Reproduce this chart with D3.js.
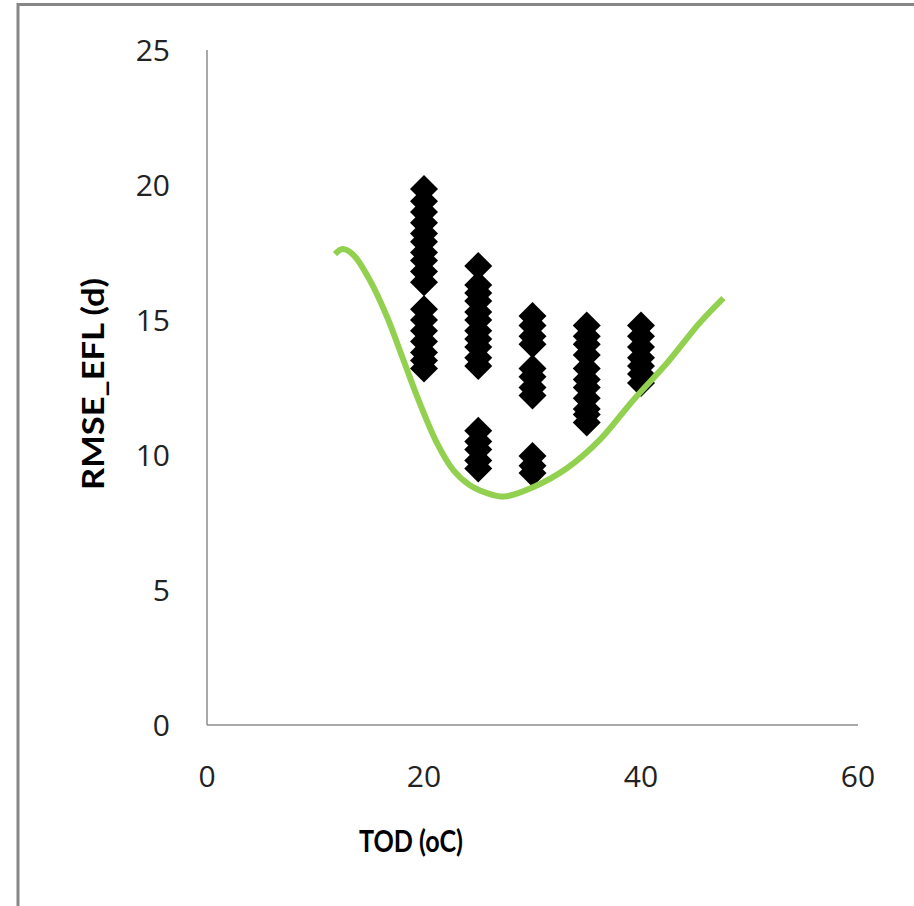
<!DOCTYPE html>
<meta charset="utf-8">
<style>
body { margin: 0; background: #fff; }
svg { display: block; }
.tick-label { font-family: "Open Sans", sans-serif; font-size: 30px; fill: #222; }
.title { font-family: Lato, sans-serif; font-size: 31px; font-weight: bold; fill: #000; }
</style>
<body>
<div id="chart"></div>
<script src="https://d3js.org/d3.v7.min.js"></script>
<script>
const width = 914, height = 906;

// observed points, one column per TOD value
const xCols = [20, 25, 30, 35, 40];
const col20 = [19.85, 19.4, 19.0, 18.6, 18.2, 17.9, 17.5, 17.2, 16.8, 16.4, 15.4, 15.0, 14.6, 14.2, 13.8, 13.5, 13.2];
const col25 = [17.0, 16.3, 16.0, 15.7, 15.3, 15.0, 14.6, 14.3, 14.0, 13.6, 13.3, 10.9, 10.5, 10.2, 9.8, 9.5];
const col30 = [15.15, 14.8, 14.4, 14.1, 13.2, 12.9, 12.5, 12.2, 9.96, 9.6, 9.33];
const col35 = [14.8, 14.4, 14.1, 13.7, 13.2, 12.8, 12.5, 12.1, 11.7, 11.5, 11.2];
const col40 = [14.8, 14.4, 14.0, 13.6, 13.3, 13.0, 12.67];
const colValues = [col20, col25, col30, col35, col40];

// fitted curve
const curveX = [11.8, 12.5, 13.5, 15.0, 16.6, 18.1, 19.6, 21.2, 22.7, 24.2, 25.8, 27.4, 30.05, 33.2, 36.2, 39.3, 42.4, 45.4, 47.6];
const curveY = [17.44, 17.63, 17.41, 16.48, 15.11, 13.52, 11.93, 10.44, 9.44, 8.89, 8.59, 8.46, 8.81, 9.52, 10.56, 12.04, 13.41, 14.89, 15.81];

const xTicks = [0, 20, 40, 60];
const yTicks = [0, 5, 10, 15, 20, 25];

const svg = d3.select("#chart").append("svg")
	.attr("width", width)
	.attr("height", height);

// outer frame
svg.append("rect")
	.attr("x", 18).attr("y", 4.5)
	.attr("width", 930).attr("height", 940)
	.attr("fill", "none")
	.attr("stroke", "#878787")
	.attr("stroke-width", 3);

const x = d3.scaleLinear().domain([0, 60]).range([207, 858]);
const y = d3.scaleLinear().domain([0, 25]).range([725, 50]);

// axis lines
svg.append("line")
	.attr("x1", x(0)).attr("x2", x(0)).attr("y1", y(25)).attr("y2", y(0))
	.attr("stroke", "#8c8c8c").attr("stroke-width", 1.5);
svg.append("line")
	.attr("x1", x(0)).attr("x2", x(60)).attr("y1", y(0)).attr("y2", y(0))
	.attr("stroke", "#8c8c8c").attr("stroke-width", 1.5);

// tick labels
svg.selectAll(".ylab")
	.data(yTicks)
	.enter().append("text")
	.attr("class", "tick-label")
	.attr("x", 170)
	.attr("y", d => y(d))
	.attr("dy", "0.36em")
	.attr("text-anchor", "end")
	.text(d => d);

svg.selectAll(".xlab")
	.data(xTicks)
	.enter().append("text")
	.attr("class", "tick-label")
	.attr("x", d => x(d))
	.attr("y", 776)
	.attr("dy", "0.36em")
	.attr("text-anchor", "middle")
	.text(d => d);

// titles (squeezed a bit, the original font is narrower)
svg.append("text")
	.attr("class", "title")
	.attr("x", 411).attr("y", 841)
	.attr("dy", "0.36em")
	.attr("text-anchor", "middle")
	.attr("textLength", 104)
	.attr("lengthAdjust", "spacingAndGlyphs")
	.text("TOD (oC)");

svg.append("text")
	.attr("class", "title")
	.attr("transform", "translate(93,384) rotate(-90)")
	.attr("dy", "0.36em")
	.attr("text-anchor", "middle")
	.attr("textLength", 212)
	.attr("lengthAdjust", "spacingAndGlyphs")
	.text("RMSE_EFL (d)");

// diamonds
const pts = [];
xCols.forEach(function(c, i) {
	colValues[i].forEach(function(v) { pts.push([c, v]); });
});

svg.append("g").selectAll("path")
	.data(pts)
	.enter().append("path")
	.attr("transform", d => "translate(" + x(d[0]) + "," + y(d[1]) + ")")
	.attr("d", "M0,-14L14,0L0,14L-14,0Z")
	.attr("fill", "#000");

// green fitted line
const line = d3.line()
	.x(d => x(d[0]))
	.y(d => y(d[1]))
	.curve(d3.curveCatmullRom);

svg.append("path")
	.datum(curveX.map((v, i) => [v, curveY[i]]))
	.attr("d", line)
	.attr("fill", "none")
	.attr("stroke", "#92d050")
	.attr("stroke-width", 6);
</script>
</body>
